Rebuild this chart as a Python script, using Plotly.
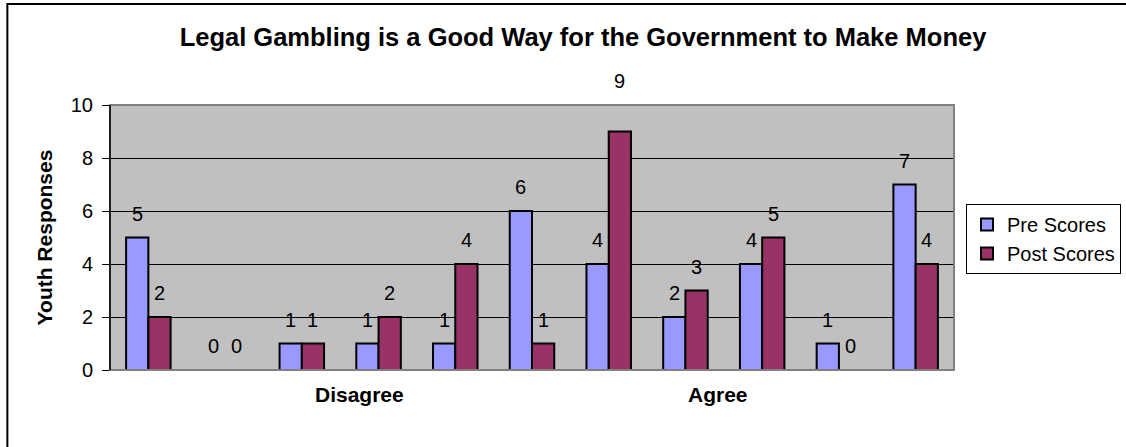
import plotly.graph_objects as go

categories = list(range(11))
pre_scores = [5, 0, 1, 1, 1, 6, 4, 2, 4, 1, 7]
post_scores = [2, 0, 1, 2, 4, 1, 9, 3, 5, 0, 4]
y_ticks = [0, 2, 4, 6, 8, 10]
axis_labels = [("Disagree", 2.75), ("Agree", 7.42)]

W, H = 1126, 447
L, R, T, B = 110, 169, 105, 77
pw, ph = W - L - R, H - T - B
BARGAP = 0.42

font_family = "Liberation Sans, Arial, sans-serif"

fig = go.Figure()
fig.add_trace(go.Bar(
    x=categories, y=pre_scores, name="Pre Scores", legendgroup="pre",
    marker=dict(color="#9999FF", line=dict(color="black", width=2)),
))
fig.add_trace(go.Bar(
    x=categories, y=post_scores, name="Post Scores", legendgroup="post",
    marker=dict(color="#993366", line=dict(color="black", width=2)),
))

def px_x(px):
    return (px - L) / pw

def px_y(py):
    return (H - B - py) / ph

shapes = [
    dict(type="rect", xref="paper", yref="paper",
         x0=px_x(7), x1=px_x(1140), y0=px_y(460), y1=px_y(4),
         line=dict(color="black", width=2), layer="below"),
    dict(type="rect", xref="paper", yref="paper", x0=0, x1=1, y0=0, y1=1,
         line=dict(color="#808080", width=2), layer="above"),
    dict(type="line", xref="paper", yref="paper", x0=0, x1=0, y0=0, y1=1,
         line=dict(color="black", width=1.5), layer="above"),
]

annotations = [
    dict(text=lbl, x=xv, y=px_y(408), xref="x", yref="paper", showarrow=False,
         font=dict(size=21, color="black", family=font_family, weight="bold"))
    for lbl, xv in axis_labels
]

off = (1 - BARGAP) / 4
for series, sign in ((pre_scores, -1), (post_scores, 1)):
    for c, v in zip(categories, series):
        # the tallest label sits higher, above the plot frame, as in the source
        shift = 51 if v >= 9 else 24
        annotations.append(dict(
            text=str(v), x=c + sign * off, y=v, xref="x", yref="y",
            showarrow=False, yanchor="middle", yshift=shift,
            font=dict(size=20, color="black", family=font_family)))

fig.update_layout(
    width=W, height=H,
    margin=dict(l=L, r=R, t=T, b=B),
    paper_bgcolor="white",
    plot_bgcolor="#C0C0C0",
    barmode="group",
    bargap=BARGAP,
    bargroupgap=0,
    title=dict(text="<b>Legal Gambling is a Good Way for the Government to Make Money</b>",
               x=583 / W, xanchor="center",
               y=1 - 37 / H, yanchor="middle",
               font=dict(size=25.5, color="black", family=font_family)),
    xaxis=dict(range=[-0.5, 10.5], showticklabels=False, showgrid=False,
               zeroline=False, showline=False, ticks=""),
    yaxis=dict(range=[0, 10], tickvals=y_ticks, showgrid=True, gridcolor="black",
               gridwidth=1, zeroline=False, showline=False, ticks="outside",
               ticklen=7, tickcolor="black", ticklabelstandoff=5,
               tickfont=dict(size=20, color="black", family=font_family),
               title=dict(text="<b>Youth Responses</b>", standoff=12,
                          font=dict(size=21, color="black", family=font_family))),
    legend=dict(xref="container", yref="container",
                x=966 / W, y=1 - 204 / H, xanchor="left", yanchor="top",
                bgcolor="white", bordercolor="black", borderwidth=1,
                font=dict(size=20, color="black", family=font_family),
                itemsizing="constant", tracegroupgap=0),
    shapes=shapes,
    annotations=annotations,
)

fig.write_html("out.html")
